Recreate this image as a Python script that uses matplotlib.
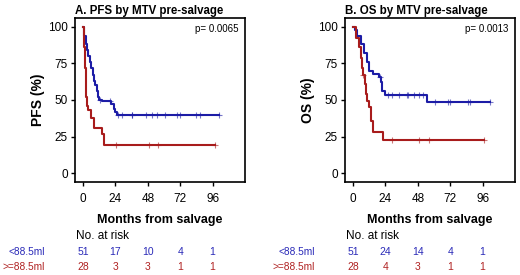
import numpy as np
import matplotlib
matplotlib.use("Agg")
import matplotlib.pyplot as plt
import matplotlib.transforms as mtransforms

plt.rcParams["font.family"] = ["Liberation Sans", "DejaVu Sans"]

# ---- data ----
xticks = [0, 24, 48, 72, 96]
yticks = [0, 25, 50, 75, 100]
groups = ["<88.5ml", ">=88.5ml"]

# PFS: step times (months) and survival (%) after each step
pfs_low_t = [0, 1, 2, 3, 4, 5, 6, 7, 8, 9, 10, 11, 12, 14, 21, 23, 24, 25, 101]
pfs_low_s = [100, 94, 88, 84, 80, 76, 72, 67, 63, 60, 56, 52, 50, 49, 47, 44, 42, 40, 40]
pfs_low_cens = [12.6, 19.9, 26.1, 28.5, 36, 36.5, 46.3, 51.2, 54.9, 61, 69.7, 72.1, 83.5, 86.4, 101]
pfs_high_t = [0, 1, 1.5, 2, 2.5, 3, 4, 5.5, 8, 14, 15.5, 97.5]
pfs_high_s = [100, 86, 72, 62, 52, 46, 43, 38, 31, 27, 19.5, 19.5]
pfs_high_cens = [24.4, 48.7, 55.6, 97.5]

# OS
os_low_t = [0, 1.5, 3, 5.5, 8, 10.5, 12, 14.5, 19, 20.5, 21.5, 24, 54.5, 101.5]
os_low_s = [100, 98, 94, 88, 82, 76, 70, 68, 66, 62, 56, 53.5, 48.5, 48.5]
os_low_cens = [20, 25.5, 28.5, 34, 40, 41, 45, 48.5, 51.5, 61, 70.4, 72, 85, 86.5, 101.5]
os_high_t = [0, 2, 4.5, 5.5, 6.5, 7.5, 8.5, 9.5, 10.5, 11.5, 13, 14.5, 22.5, 96.7]
os_high_s = [100, 92.5, 86, 79, 72, 67, 61, 54, 49, 45, 36, 28, 23, 23]
os_high_cens = [7.6, 29.2, 48.6, 56, 96.7]

risk_pfs = [[51, 17, 10, 4, 1], [28, 3, 3, 1, 1]]
risk_os = [[51, 24, 14, 4, 1], [28, 4, 3, 1, 1]]

blue = "#1c1ca6"
red = "#a81c1c"
txt_blue = "#2a2ab8"
txt_red = "#b02222"


def surv_at(t, s, x):
    idx = np.searchsorted(t, x, side="right") - 1
    return np.array(s)[idx]


fig = plt.figure(figsize=(5.2, 2.75), dpi=100)
W, H = 520, 275


def fx(px):
    return px / W


def fy(py):
    return 1 - py / H


panels = [
    dict(left=75, title="A. PFS by MTV pre-salvage", ylab="PFS (%)", p="p= 0.0065",
         curves=[(pfs_low_t, pfs_low_s, pfs_low_cens, blue), (pfs_high_t, pfs_high_s, pfs_high_cens, red)],
         risk=risk_pfs),
    dict(left=345, title="B. OS by MTV pre-salvage", ylab="OS (%)", p="p= 0.0013",
         curves=[(os_low_t, os_low_s, os_low_cens, blue), (os_high_t, os_high_s, os_high_cens, red)],
         risk=risk_os),
]

for pn in panels:
    ax = fig.add_axes([fx(pn["left"]), fy(182), fx(170), (182 - 18) / H])
    for t, s, c, col in pn["curves"]:
        ax.step(t, s, where="post", color=col, lw=1.5)
        ax.plot(c, surv_at(t, s, c), ls="none", marker="+", ms=5, mew=0.8, color=col, alpha=0.6)
    ax.set_xlim(-6, 120)
    ax.set_ylim(-6, 106)
    ax.set_xticks(xticks)
    ax.set_yticks(yticks)
    ax.tick_params(axis="x", labelsize=8.5, length=3, width=1, pad=5)
    ax.tick_params(axis="y", labelsize=8.5, length=3, width=1, pad=2)
    for sp in ax.spines.values():
        sp.set_linewidth(1.2)
    ax.set_ylabel(pn["ylab"], fontsize=10, fontweight="bold", labelpad=2)
    ax.text(0.0, 1.008, pn["title"], transform=ax.transAxes, fontsize=8.3,
            fontweight="semibold", ha="left", va="bottom")
    ax.text(0.96, 0.93, pn["p"], transform=ax.transAxes, fontsize=7, ha="right", va="center")

    # x label sits a bit right of the axis centre in the original
    xl = fig.text(fx(pn["left"] + 85), fy(220), "Months from salvage", fontsize=9,
                  fontweight="bold", ha="center", va="center")
    trans = mtransforms.blended_transform_factory(ax.transData, fig.transFigure)
    fig.text(fx(pn["left"] + 1), fy(236), "No. at risk", fontsize=8.5, ha="left", va="center")
    for row, (g, col, py) in enumerate(zip(groups, [txt_blue, txt_red], [252, 267])):
        fig.text(fx(pn["left"] - 30), fy(py), g, fontsize=7.3, color=col, ha="right", va="center")
        for x, n in zip(xticks, pn["risk"][row]):
            ax.text(x, fy(py), str(n), transform=trans, fontsize=7.5, color=col,
                    ha="center", va="center")

fig.savefig("out.png", dpi=100)
